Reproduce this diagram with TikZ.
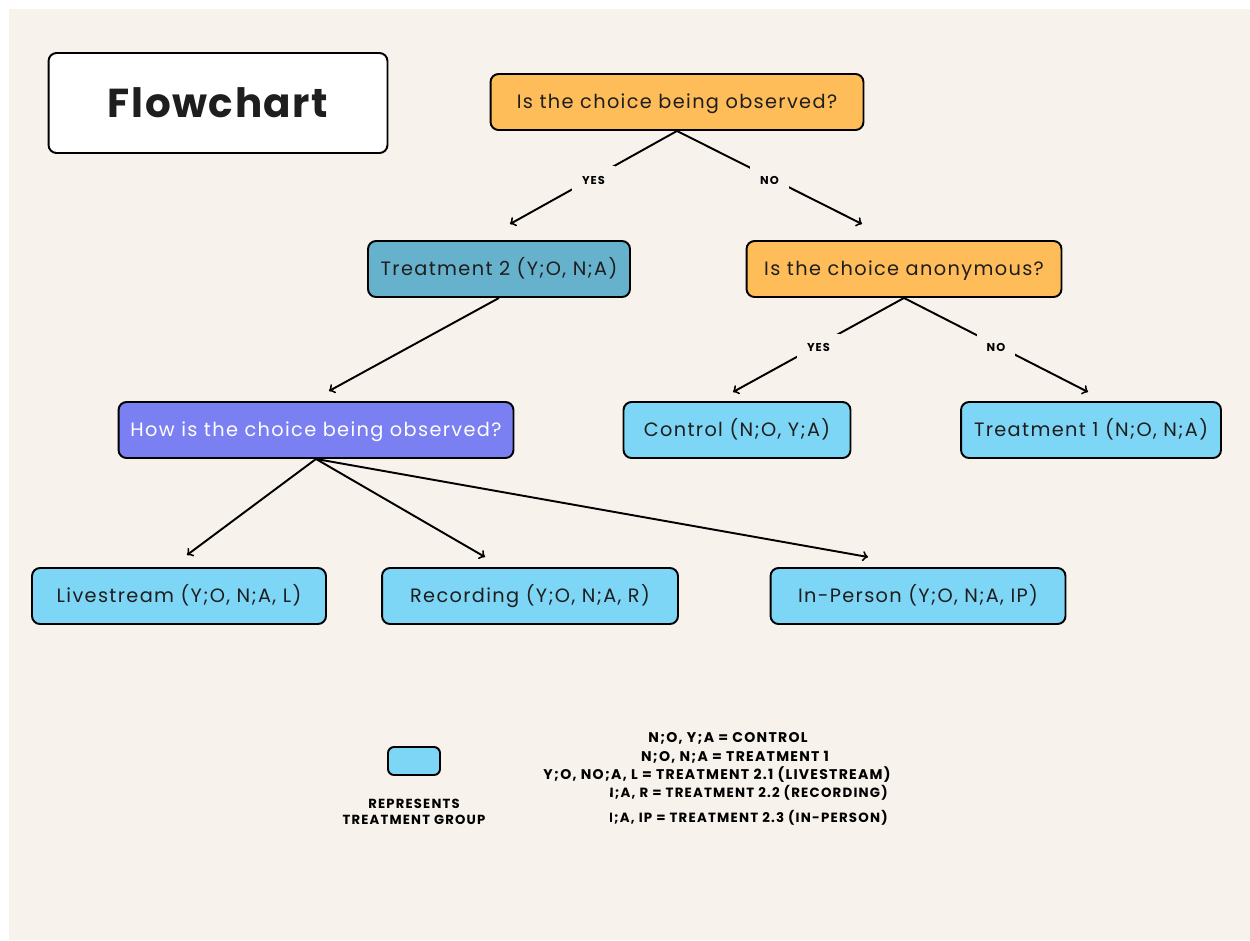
\documentclass[tikz,border=0pt]{standalone}
\usepackage{fontspec}
\setmainfont{Poppins}
\newfontfamily\boxfont[LetterSpace=7]{Poppins}
\newfontfamily\titlefont[LetterSpace=4]{Poppins}
\newfontfamily\keyfont[LetterSpace=9]{Poppins}
\usetikzlibrary{arrows}

\definecolor{paper}{HTML}{F7F3EC}
\definecolor{askorange}{HTML}{FFBD59}
\definecolor{branchteal}{HTML}{66B2CC}
\definecolor{howpurple}{HTML}{7A7FF2}
\definecolor{groupblue}{HTML}{7DD6F5}
\definecolor{ink}{HTML}{1E1E1E}

\tikzset{
  box/.style={draw=black, line width=1.1pt, rounded corners=0.16cm,
    minimum height=1.12cm, inner sep=0pt, text=ink,
    text height=7.8pt, text depth=0pt,
    font=\boxfont\fontsize{11}{13}\selectfont},
  question/.style={box, fill=askorange},
  branch/.style={box, fill=branchteal},
  method/.style={box, fill=howpurple, text=white},
  group/.style={box, fill=groupblue},
  answer/.style={fill=paper, inner sep=0.2cm, yshift=-1.5pt,
    font=\keyfont\fontsize{6.5}{7}\selectfont\bfseries},
  legendtext/.style={inner sep=0pt, font=\keyfont\fontsize{8}{9}\selectfont\bfseries},
  link/.style={->, >=to, line width=1.1pt},
}

\begin{document}
\begin{tikzpicture}[x=0.02cm, y=-0.02cm]
  \useasboundingbox (0,0) rectangle (1250,940);
  \fill[white] (0,0) rectangle (1250,940);
  \fill[paper] (9,9) rectangle (1250,940);

  % title
  \node[box, fill=white, minimum width=6.78cm, minimum height=2cm, text height=16.5pt,
    font=\titlefont\fontsize{23}{26}\selectfont\bfseries] (title) at (218,103) {Flowchart};

  % questions
  \node[question, minimum width=7.46cm] (observed) at (677,102) {Is the choice being observed?};
  \node[branch, minimum width=5.24cm] (treattwo) at (499,269) {Treatment 2 (Y;O, N;A)};
  \node[question, minimum width=6.3cm] (anonymous) at (904,269) {Is the choice anonymous?};
  \node[method, minimum width=7.9cm] (how) at (316,430) {How is the choice being observed?};

  % treatment groups
  \node[group, minimum width=4.54cm] (control) at (737,430) {Control (N;O, Y;A)};
  \node[group, minimum width=5.2cm] (treatone) at (1091,430) {Treatment 1 (N;O, N;A)};
  \node[group, minimum width=5.88cm] (livestream) at (179,596) {Livestream (Y;O, N;A, L)};
  \node[group, minimum width=5.92cm] (recording) at (530,596) {Recording (Y;O, N;A, R)};
  \node[group, minimum width=5.9cm] (inperson) at (918,596) {In-Person (Y;O, N;A, IP)};

  % arrow tips
  \coordinate (tiptwo) at (510,224);
  \coordinate (tipanon) at (862,224);
  \coordinate (tiphow) at (329,391);
  \coordinate (tipcontrol) at (733,392);
  \coordinate (tipone) at (1088,392);
  \coordinate (tiplive) at (187,555);
  \coordinate (tiprec) at (485,557);
  \coordinate (tipperson) at (868,557);

  \draw[link] (observed.south) -- node[answer] {YES} (tiptwo);
  \draw[link] (observed.south) -- node[answer] {NO} (tipanon);
  \draw[link] (treattwo.south) -- (tiphow);
  \draw[link] (anonymous.south) -- node[answer] {YES} (tipcontrol);
  \draw[link] (anonymous.south) -- node[answer] {NO} (tipone);
  \draw[link] (how.south) -- (tiplive);
  \draw[link] (how.south) -- (tiprec);
  \draw[link] (how.south) -- (tipperson);

  % legend
  \node[group, minimum width=1.04cm, minimum height=0.56cm, rounded corners=0.12cm] (sample) at (414,761) {};
  \node[legendtext, align=center, font=\keyfont\fontsize{7.5}{9}\selectfont\bfseries] (represents) at (414,812)
    {REPRESENTS\\TREATMENT GROUP};
  \node[legendtext] (keycontrol) at (728,738) {N;O, Y;A = CONTROL};
  \node[legendtext] (keyone) at (735,757) {N;O, N;A = TREATMENT 1};
  \node[legendtext] (keylive) at (717,775) {Y;O, NO;A, L = TREATMENT 2.1 (LIVESTREAM)};
  \begin{scope}
    \clip (610,780) rectangle (900,830);
    \node[legendtext, anchor=east, font=\keyfont\fontsize{7.6}{9}\selectfont\bfseries] (keyrec) at (888,793)
      {N;A, R = TREATMENT 2.2 (RECORDING)};
    \node[legendtext, anchor=east, font=\keyfont\fontsize{7.6}{9}\selectfont\bfseries] (keyperson) at (888,818)
      {N;A, IP = TREATMENT 2.3 (IN-PERSON)};
  \end{scope}
\end{tikzpicture}
\end{document}
